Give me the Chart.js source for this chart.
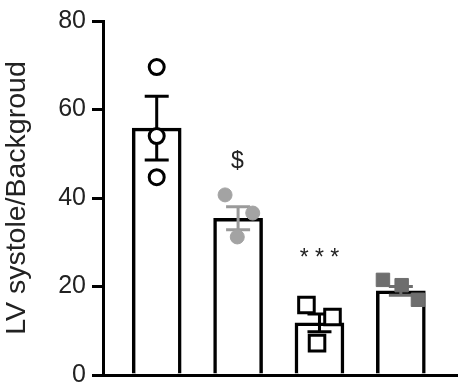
<!DOCTYPE html>
<html>
<head>
<meta charset="utf-8">
<script src="https://cdn.jsdelivr.net/npm/chart.js@4"></script>
<style>
    html, body { margin: 0; padding: 0; background: #fff; overflow: hidden; height: 382px; }
    canvas { display: block; }
</style>
</head>
<body>
<!-- canvas is a bit taller than the window; the bottom strip is clipped -->
<canvas id="lvChart" width="463" height="396"></canvas>
<script>
// group means and SEM
const groups = [1, 2, 3, 4];
const means = [55.8, 35.4, 11.8, 19.0];
const sems = [7.2, 2.6, 2.0, 1.0];

// individual animals (x = group position with jitter)
const g1x = [1.0, 1.0, 1.0];
const g1y = [69.6, 54.0, 44.7];
const g2x = [1.84, 2.18, 1.99];
const g2y = [40.7, 36.6, 31.2];
const g3x = [2.84, 3.16, 2.97];
const g3y = [15.8, 13.1, 7.2];
const g4x = [3.78, 4.01, 4.21];
const g4y = [21.5, 20.3, 17.0];

const yTicks = [0, 20, 40, 60, 80];

// significance marks
const marks = [
    { x: 1.99, y: 48.2, text: "$", size: 23 },
    { x: 3.0, y: 26.3, text: "* * *", size: 23 }
];

const errColors = ["#000", "#9a9a9a", "#000", "#6e6e6e"];

function pts(xs, ys) {
    return xs.map((x, i) => ({ x: x, y: ys[i] }));
}

const errorBars = {
    id: "errorBars",
    afterDatasetDraw(chart, args) {
        if (args.index !== 0) return;
        const ctx = chart.ctx;
        const xs = chart.scales.x, ys = chart.scales.y;
        ctx.save();
        ctx.lineWidth = 3;
        groups.forEach((g, i) => {
            const x = xs.getPixelForValue(g);
            const top = ys.getPixelForValue(means[i] + sems[i]);
            const bot = ys.getPixelForValue(means[i] - sems[i]);
            ctx.strokeStyle = errColors[i];
            ctx.beginPath();
            ctx.moveTo(x, top); ctx.lineTo(x, bot);
            ctx.moveTo(x - 12, top); ctx.lineTo(x + 12, top);
            ctx.moveTo(x - 12, bot); ctx.lineTo(x + 12, bot);
            ctx.stroke();
        });
        ctx.restore();
    },
    afterDraw(chart) {
        const ctx = chart.ctx;
        const xs = chart.scales.x, ys = chart.scales.y;
        ctx.save();
        ctx.fillStyle = "#222";
        ctx.textAlign = "center";
        ctx.textBaseline = "middle";
        marks.forEach(m => {
            ctx.font = m.size + "px 'Liberation Sans', Arial, sans-serif";
            ctx.fillText(m.text, xs.getPixelForValue(m.x), ys.getPixelForValue(m.y));
        });
        ctx.restore();
    }
};

new Chart(document.getElementById("lvChart"), {
    type: "bar",
    data: {
        datasets: [
            {
                type: "bar",
                order: 1,
                data: pts(groups, means),
                backgroundColor: "#fff",
                borderColor: "#000",
                borderWidth: 3.5,
                borderSkipped: "start",
                barThickness: 49
            },
            {
                type: "scatter", order: 0, data: pts(g1x, g1y),
                pointStyle: "circle", pointRadius: 7.5, pointBorderWidth: 3,
                pointBackgroundColor: "#fff", pointBorderColor: "#000"
            },
            {
                type: "scatter", order: 0, data: pts(g2x, g2y),
                pointStyle: "circle", pointRadius: 7, pointBorderWidth: 1,
                pointBackgroundColor: "#a3a3a3", pointBorderColor: "#a3a3a3"
            },
            {
                type: "scatter", order: 0, data: pts(g3x, g3y),
                pointStyle: "rect", pointRadius: 11, pointBorderWidth: 3,
                pointBackgroundColor: "#fff", pointBorderColor: "#000"
            },
            {
                type: "scatter", order: 0, data: pts(g4x, g4y),
                pointStyle: "rect", pointRadius: 9.5, pointBorderWidth: 1,
                pointBackgroundColor: "#6e6e6e", pointBorderColor: "#6e6e6e"
            }
        ]
    },
    options: {
        responsive: false,
        animation: false,
        layout: { autoPadding: false, padding: { top: 21, right: 6, left: 0, bottom: 0 } },
        plugins: { legend: { display: false }, tooltip: { enabled: false } },
        scales: {
            x: {
                type: "linear",
                offset: false,
                min: 0.34,
                max: 4.69,
                grid: { display: false },
                ticks: { display: false },
                border: { color: "#000", width: 3 },
                afterFit(scale) { scale.height = 7; }
            },
            y: {
                min: 0,
                max: 80,
                afterBuildTicks(scale) { scale.ticks = yTicks.map(v => ({ value: v })); },
                grid: { drawOnChartArea: false, drawTicks: true, tickLength: 11, color: "#000", lineWidth: 3 },
                border: { color: "#000", width: 3 },
                ticks: {
                    color: "#222",
                    padding: 6,
                    font: { family: "'Liberation Sans', Arial, sans-serif", size: 25 }
                },
                title: {
                    display: true,
                    text: "LV systole/Backgroud",
                    color: "#222",
                    padding: { top: 0, bottom: 4 },
                    font: { family: "'Liberation Sans', Arial, sans-serif", size: 28.5 }
                },
                afterFit(scale) { scale.width = 103; }
            }
        }
    },
    plugins: [errorBars]
});
</script>
</body>
</html>
